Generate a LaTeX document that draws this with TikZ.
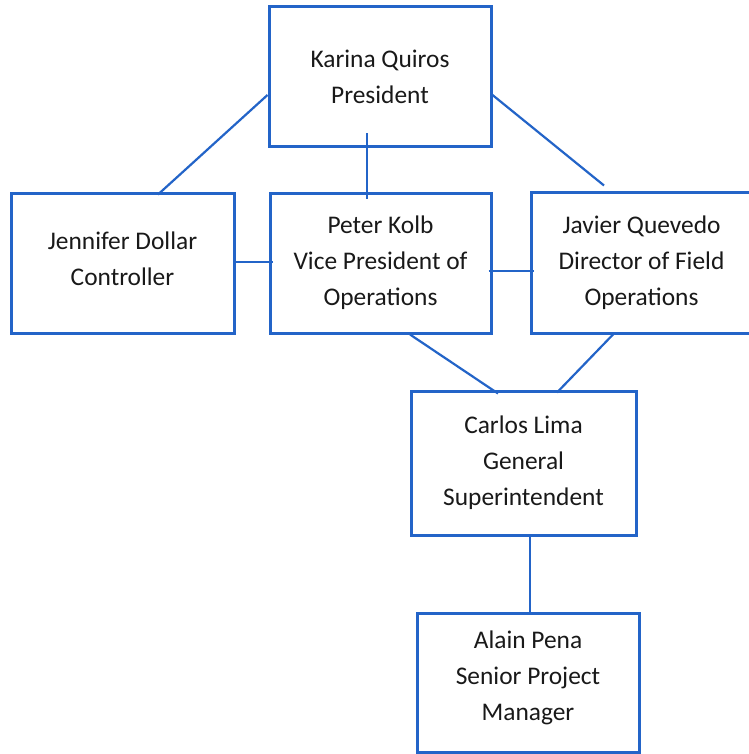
\documentclass[tikz,border=0pt]{standalone}
\usepackage{fontspec}
\setmainfont{Carlito}
\definecolor{boxblue}{RGB}{35,100,200}
\definecolor{txt}{RGB}{25,25,25}
\tikzset{
  orgbox/.style={draw=boxblue, line width=3pt, rectangle, align=center, text=txt,
    font=\fontsize{25.4pt}{36pt}\selectfont, inner sep=0pt},
  link/.style={draw=boxblue, line width=2.2pt}
}
\begin{document}
\begin{tikzpicture}[x=1pt,y=-1pt]
\useasboundingbox[fill=white] (0,0) rectangle (748,754);
\node[orgbox, minimum width=222pt, minimum height=140pt] (pres) at (380,77) {Karina Quiros\\President};
\node[orgbox, minimum width=223pt, minimum height=140pt] (jen) at (122.5,263) {\raisebox{2.5pt}[\height][\depth]{\begin{tabular}{@{}c@{}}Jennifer Dollar\\Controller\end{tabular}}};
\node[orgbox, minimum width=221pt, minimum height=140pt] (peter) at (380.5,263) {Peter Kolb\\Vice President of\\Operations};
\node[orgbox, minimum width=221pt, minimum height=141pt] (javier) at (641.5,262.5) {Javier Quevedo\\Director of Field\\Operations};
\node[orgbox, minimum width=225pt, minimum height=144pt] (carlos) at (523.5,463) {Carlos Lima\\General\\Superintendent};
\node[orgbox, minimum width=222pt, minimum height=139pt] (alain) at (528,682.5) {\raisebox{5pt}[\height][\depth]{\begin{tabular}{@{}c@{}}Alain Pena\\Senior Project\\Manager\end{tabular}}};
\draw[link] ([yshift=-18pt]pres.west) -- ([xshift=35.5pt,yshift=-3pt]jen.north);
\draw[link] ([xshift=-13pt,yshift=15pt]pres.south) -- ([xshift=-13.5pt,yshift=-7pt]peter.north);
\draw[link] ([yshift=-18pt]pres.east) -- ([xshift=-37.5pt,yshift=5pt]javier.north);
\draw[link] ([xshift=-2pt,yshift=1pt]jen.east) -- ([xshift=4pt,yshift=1pt]peter.west);
\draw[link] ([xshift=-4pt,yshift=-8pt]peter.east) -- ([xshift=4pt,yshift=-8.5pt]javier.west);
\draw[link] ([xshift=29.5pt]peter.south) -- ([xshift=-25.5pt,yshift=-4pt]carlos.north);
\draw[link] ([xshift=-28.5pt]javier.south) -- ([xshift=33.5pt,yshift=-3pt]carlos.north);
\draw[link] ([xshift=6.5pt]carlos.south) -- ([xshift=2pt]alain.north);
\end{tikzpicture}
\end{document}
